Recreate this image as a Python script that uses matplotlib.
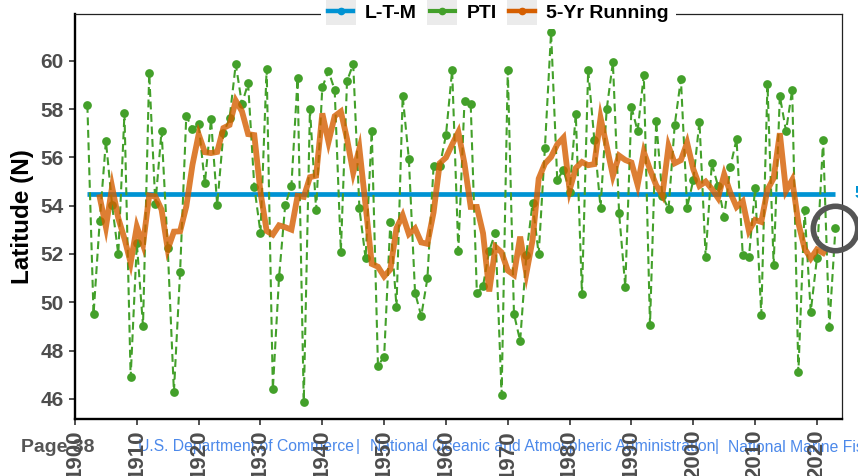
import numpy as np
import pandas as pd
import matplotlib
matplotlib.use("Agg")
import matplotlib.pyplot as plt
from matplotlib import font_manager
from matplotlib.lines import Line2D
from matplotlib.patches import Rectangle
from matplotlib.legend_handler import HandlerLine2D

# ---- data -------------------------------------------------------------
years = np.arange(1902, 2024)
pti = [
    58.17, 49.50, 53.37, 56.68, 54.03, 51.99, 57.82, 46.90, 52.44, 49.03,   # 1902-1911
    59.48, 54.06, 57.10, 52.23, 46.30, 51.27, 57.72, 57.17, 57.37, 54.92,   # 1912-1921
    57.57, 54.03, 56.99, 57.61, 59.86, 58.21, 59.06, 54.79, 52.88, 59.66,   # 1922-1931
    46.40, 51.03, 54.03, 54.81, 59.27, 45.89, 58.01, 53.82, 58.90, 59.57,   # 1932-1941
    58.79, 52.10, 59.16, 59.86, 53.89, 51.82, 57.10, 47.38, 47.75, 53.31,   # 1942-1951
    49.82, 58.54, 55.93, 50.40, 49.43, 50.99, 55.64, 55.64, 56.92, 59.61,   # 1952-1961
    52.14, 58.34, 58.21, 50.37, 50.68, 52.14, 52.88, 46.17, 59.61, 49.52,   # 1962-1971
    48.40, 51.96, 54.10, 51.99, 56.37, 61.17, 55.06, 55.48, 54.58, 57.78,   # 1972-1981
    50.34, 59.61, 56.72, 53.92, 58.00, 59.93, 53.71, 50.65, 58.07, 57.09,   # 1982-1991
    59.41, 49.06, 57.49, 54.41, 53.86, 57.34, 59.24, 53.92, 55.05, 57.48,   # 1992-2001
    51.89, 55.75, 54.81, 53.54, 55.61, 56.76, 51.96, 51.86, 54.72, 49.48,   # 2002-2011
    59.03, 51.54, 58.54, 57.09, 58.79, 47.10, 53.82, 49.61, 51.82, 56.72,   # 2012-2021
    48.97, 53.09,                                                           # 2022-2023
]
ltm = 54.5
running_window = 5
x_ticks = list(range(1900, 2021, 10))
y_ticks = [46, 48, 50, 52, 54, 56, 58, 60]
legend_labels = ["L-T-M", "PTI", "5-Yr Running"]

# ---- derived series ---------------------------------------------------
df = pd.DataFrame({"year": years, "pti": pti})
df["run5"] = df["pti"].rolling(running_window, center=True).mean()

# ---- styling ----------------------------------------------------------
names = {f.name for f in font_manager.fontManager.ttflist}
base_font = "Liberation Sans" if "Liberation Sans" in names else "DejaVu Sans"
narrow_font = "Liberation Sans Narrow" if "Liberation Sans Narrow" in names else base_font
plt.rcParams["font.family"] = [base_font, "DejaVu Sans"]

c_ltm = "#0093D3"
c_pti = "#43A02A"
c_run = "#D55E00"
tick_grey = "#4D4D4D"

fig = plt.figure(figsize=(8.58, 4.76), dpi=100)
ax = fig.add_axes([0.08741, 0.1187, 0.8939, 0.8513])

# long-term mean
ax.plot([years[0], years[-1]], [ltm, ltm], color=c_ltm, lw=3.4,
        solid_capstyle="butt", zorder=2)
# annual index
ax.plot(df["year"], df["pti"], color=c_pti, lw=1.5, linestyle=(0, (3.8, 2.2)),
        marker="o", ms=6.3, markeredgewidth=0, zorder=3, clip_on=False)
# centred running mean
ax.plot(df["year"], df["run5"], color=c_run, lw=4.2, alpha=0.8,
        solid_joinstyle="miter", zorder=4)
# highlight on the latest value
ax.plot(years[-1], pti[-1], marker="o", ms=32, markerfacecolor="none",
        markeredgecolor="#555555", markeredgewidth=4.0, clip_on=False, zorder=6)
ax.text(2026.1, ltm, f"{ltm:.1f}", color=c_ltm, fontsize=12, fontweight="bold",
        va="center", ha="left", clip_on=False)

ax.set_xlim(1900, 2024.05)
ax.set_ylim(45.15, 61.92)
ax.set_xticks(x_ticks)
ax.set_yticks(y_ticks)
ax.set_xticklabels([str(t) for t in x_ticks], rotation=90, fontsize=16,
                   fontweight="bold", color=tick_grey)
ax.set_yticklabels([str(t) for t in y_ticks], fontsize=15,
                   fontweight="bold", color=tick_grey)
ax.tick_params(axis="both", direction="out", length=4, width=1.2, color="#333333")
ax.tick_params(axis="x", pad=3.5)
ax.tick_params(axis="y", pad=4)

for side in ("left", "bottom"):
    ax.spines[side].set_linewidth(1.7)
    ax.spines[side].set_color("black")
for side in ("top", "right"):
    ax.spines[side].set_linewidth(0.9)
    ax.spines[side].set_color("#222222")

ax.set_ylabel("Latitude (N)", fontsize=17.5, fontweight="bold", color="black",
              labelpad=5)


# legend keys drawn on a light grey tile
class KeyTile(HandlerLine2D):
    def create_artists(self, legend, orig_handle, xdescent, ydescent,
                       width, height, fontsize, trans):
        arts = super().create_artists(legend, orig_handle, xdescent, ydescent,
                                      width, height, fontsize, trans)
        padx, pady = 1.8, 5.0
        tile = Rectangle((-xdescent - padx, -ydescent - pady),
                         width + 2 * padx, height + 2 * pady,
                         facecolor="#EBEBEB", edgecolor="none", transform=trans)
        return [tile] + list(arts)


handles = [
    Line2D([], [], color=c_ltm, lw=3.2, marker="o", ms=4.5),
    Line2D([], [], color=c_pti, lw=3.0, marker="o", ms=4.5),
    Line2D([], [], color=c_run, lw=3.2, marker="o", ms=4.5),
]
leg = fig.legend(handles, legend_labels, loc="center", ncol=3,
                 bbox_to_anchor=(498.5 / 858, 1 - 13.5 / 476),
                 bbox_transform=fig.transFigure,
                 prop={"family": base_font, "weight": "bold", "size": 14},
                 handlelength=1.3, handletextpad=0.6, columnspacing=0.65,
                 borderpad=0.35, frameon=True, fancybox=False,
                 handler_map={Line2D: KeyTile()})
leg.get_frame().set_facecolor("white")
leg.get_frame().set_edgecolor("none")
leg.get_frame().set_alpha(1)
leg.set_zorder(10)

# page footer
fig.text(21 / 858, 1 - 447 / 476, "Page 38", fontsize=14, fontweight="bold",
         color="#555555", family=narrow_font, va="center", ha="left", zorder=-1)
foot_blue = "#4C89EA"
footer_parts = [
    (138, "U.S. Department of Commerce", "left"),
    (358, "|", "center"),
    (370, "National Oceanic and Atmospheric Administration", "left"),
    (717, "|", "center"),
    (728, "National Marine Fisheries Service", "left"),
]
for px, txt, ha in footer_parts:
    fig.text(px / 858, 1 - 447 / 476, txt, fontsize=11.3, color=foot_blue,
             family=narrow_font, va="center", ha=ha, zorder=-1)

fig.savefig("out.png", dpi=100)
